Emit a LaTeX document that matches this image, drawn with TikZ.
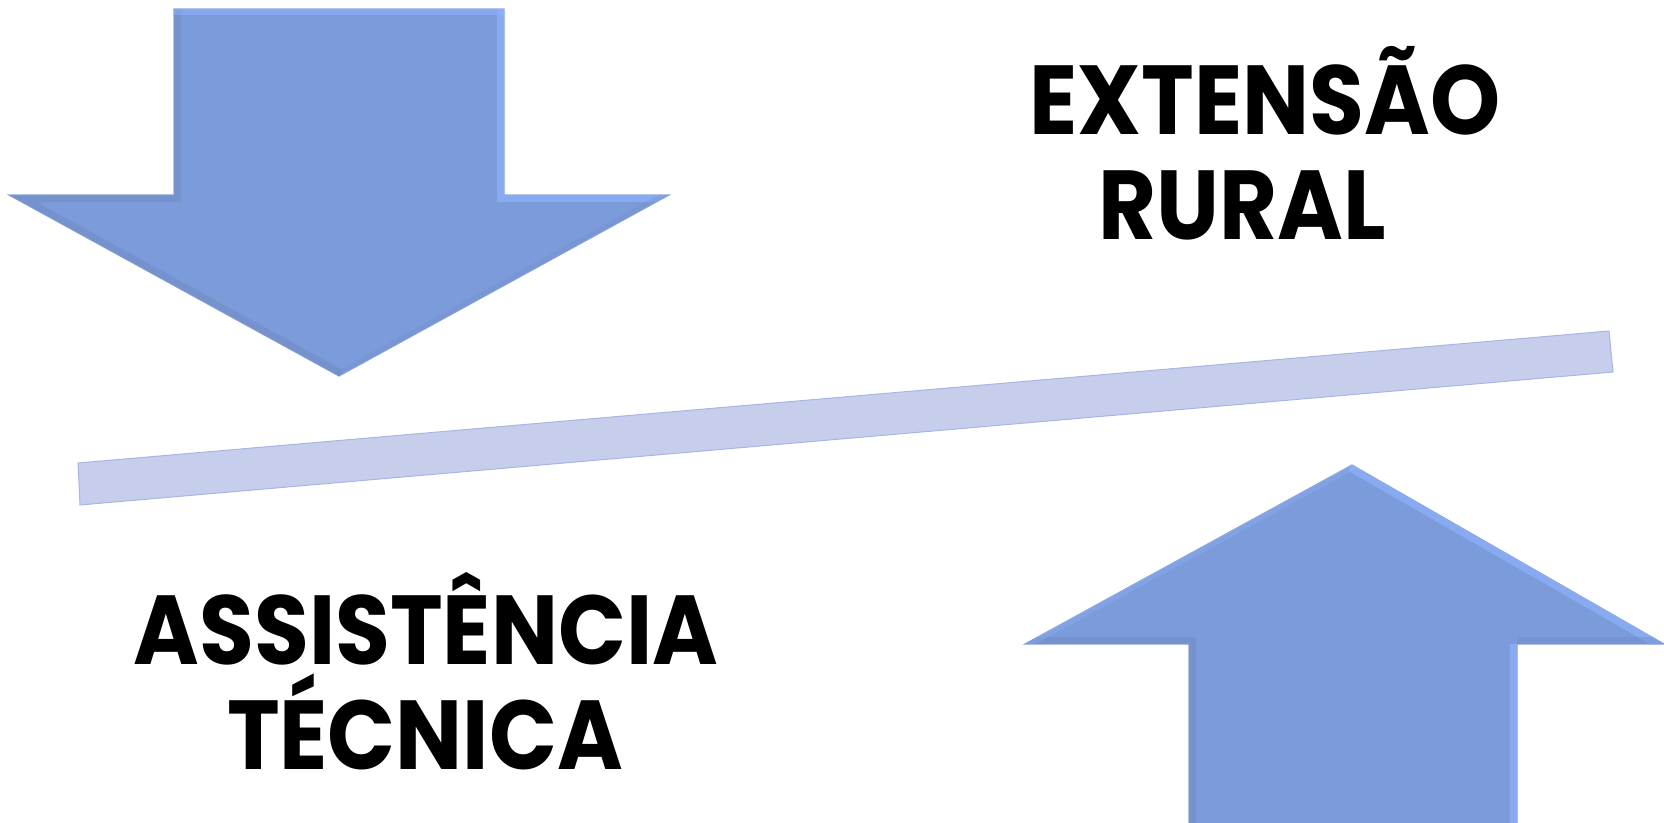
\documentclass[tikz,border=0pt]{standalone}
\usepackage{fontspec}
\newfontfamily\gothic{Poppins}
\usetikzlibrary{positioning}
\definecolor{arrowblue}{RGB}{124,155,219}
\definecolor{arrowdark}{RGB}{110,136,190}
\definecolor{arrowlight}{RGB}{143,180,255}
\definecolor{barblue}{RGB}{198,206,236}
\definecolor{baredge}{RGB}{170,182,225}
\newcommand{\narrow}[1]{\scalebox{0.91}[1]{#1}}
\tikzset{
arrowfill/.style={fill=arrowblue, draw=arrowlight!70!gray, line width=1.2pt, line join=miter},
barfill/.style={fill=barblue, draw=baredge, line width=1pt},
label/.style={font=\gothic\bfseries\fontsize{98}{110}\selectfont, anchor=base, inner sep=0pt}
}
\begin{document}
\begin{tikzpicture}[x=1pt,y=-1pt]
  \useasboundingbox (0,0) rectangle (1664,822);
  % down arrow
  \draw[arrowfill] (174,9) -- (504,9) -- (504,195) -- (669,195) -- (339,376) -- (9,195) -- (174,195) -- cycle;
  \begin{scope}
    \clip (174,9) -- (504,9) -- (504,195) -- (669,195) -- (339,376) -- (9,195) -- (174,195) -- cycle;
    \draw[arrowdark, line width=14pt, opacity=0.45] (174,9) -- (174,195) -- (9,195) -- (339,376);
    \draw[arrowlight, line width=14pt, opacity=0.6] (504,9) -- (504,195) -- (669,195);
    \draw[arrowlight, line width=12pt, opacity=0.5] (174,9) -- (504,9);
    \draw[arrowdark, line width=10pt, opacity=0.25] (669,195) -- (339,376);
  \end{scope}
  % up arrow
  \draw[arrowfill] (1352,465) -- (1664,644) -- (1517,644) -- (1517,830) -- (1189,830) -- (1189,644) -- (1025,644) -- cycle;
  \begin{scope}
    \clip (1352,465) -- (1664,644) -- (1517,644) -- (1517,830) -- (1189,830) -- (1189,644) -- (1025,644) -- cycle;
    \draw[arrowdark, line width=14pt, opacity=0.45] (1025,644) -- (1189,644) -- (1189,830);
    \draw[arrowlight, line width=14pt, opacity=0.6] (1352,465) -- (1664,644);
    \draw[arrowlight, line width=14pt, opacity=0.6] (1517,644) -- (1517,830);
    \draw[arrowdark, line width=14pt, opacity=0.35] (1517,644) -- (1664,644);
    \draw[arrowlight, line width=10pt, opacity=0.3] (1025,644) -- (1352,465);
  \end{scope}
  % balance bar
  \draw[barfill] (78,463) -- (1609,331) -- (1613,372) -- (80,505) -- cycle;
  % labels
  \node[label] (ext) at (1265,134) {\narrow{EXTENSÃO}};
  \node[label] (rur) at (1242,239) {\narrow{RURAL}};
  \node[label] (ass) at (426,664) {\narrow{ASSISTÊNCIA}};
  \node[label] (tec) at (425,769) {\narrow{TÉCNICA}};
\end{tikzpicture}
\end{document}
